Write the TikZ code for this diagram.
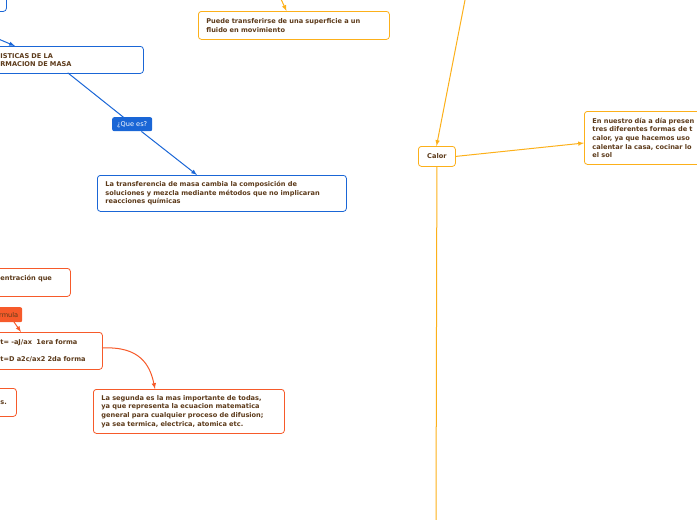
\documentclass[tikz,border=0pt]{standalone}
\usepackage{fontspec}
\setmainfont{DejaVu Sans}
\usepackage{tikz}
\usetikzlibrary{arrows.meta,positioning}
\definecolor{mapblue}{HTML}{1A66D6}
\definecolor{maporange}{HTML}{FCB01A}
\definecolor{mapred}{HTML}{F65A2A}
\definecolor{mapbrown}{HTML}{5C3A1A}
\newcommand{\maptext}{\fontsize{6.6}{8.6}\selectfont\bfseries}
\tikzset{
  topic/.style   = {draw=#1, thick, rounded corners=3pt, fill=white, align=left,
                    anchor=north west, inner xsep=8pt, inner ysep=0pt,
                    font=\maptext, text=mapbrown},
  tag/.style     = {fill=#1, rounded corners=2pt, anchor=north west, inner xsep=4pt,
                    inner ysep=0pt, font=\fontsize{6.6}{8}\selectfont},
  link/.style    = {#1, line width=1pt, line cap=round},
  arr/.style     = {#1, line width=1pt, -latex},
}
\begin{document}
\begin{tikzpicture}[x=1pt,y=-1pt]
  \useasboundingbox (0,0) rectangle (697,520);
  \clip (0,0) rectangle (697,520);
  % blue branch
  \node[topic=mapblue, text width=50pt, minimum height=21pt] (top) at (-60,-10) {};
  \node[topic=mapblue, text width=135pt, minimum height=27pt] (caract) at (-8,46)
    {ISTICAS DE LA\\RMACION DE MASA};
  \node[tag=mapblue, text=white, minimum width=40pt, minimum height=14pt] (quees) at (112,117)
    {¿Que es?};
  \node[topic=mapblue, text width=233pt, minimum height=36pt] (transf) at (97,175)
    {La transferencia de masa cambia la composición de\\soluciones y mezcla mediante métodos que no implicaran\\reacciones químicas};
  \coordinate (bluein) at (-30,27);
  \draw[arr=mapblue] (bluein) -- (15,46);
  \draw[link=mapblue] (68,73) -- (quees);
  \draw[arr=mapblue] (quees) -- (197,175);
  % yellow branch
  \node[topic=maporange, text width=175pt, minimum height=28pt] (puede) at (198,11)
    {Puede transferirse de una superficie a un\\fluido en movimiento};
  \node[topic=maporange, text width=21pt, minimum height=20pt, align=center] (calor) at (418,146)
    {Calor};
  \node[topic=maporange, text width=114pt, minimum height=53pt] (nuestro) at (584,111)
    {En nuestro día a día presen\\tres diferentes formas de t\\calor, ya que hacemos uso\\calentar la casa, cocinar lo\\el sol};
  \coordinate (puedein) at (280,-3);
  \coordinate (calorin) at (465.6,-3);
  \coordinate (calorout) at (436,525);
  \draw[arr=maporange] (puedein) -- (286.5,11);
  \draw[arr=maporange] (calorin) -- (436.5,146);
  \draw[arr=maporange] (calor.east) -- (nuestro.west |- 0,143);
  \draw[link=maporange] (calor.south) -- (calorout);
  % red branch
  \node[topic=mapred, text width=62pt, minimum height=28pt] (concentr) at (-8,268)
    {entración que\\~};
  \node[tag=mapred, text=mapbrown, text width=19pt, minimum height=15pt, align=left] (formula) at (-5,307)
    {rmula};
  \node[topic=mapred, text width=94pt, minimum height=37pt] (forma) at (-8,332)
    {t= -aJ/ax~~1era forma\\[8.6pt]t=D a2c/ax2 2da forma};
  \node[topic=mapred, text width=175pt, minimum height=44pt] (segunda) at (93,389)
    {La segunda es la mas importante de todas,\\ya que representa la ecuacion matematica\\general para cualquier proceso de difusion;\\ya sea termica, electrica, atomica etc.};
  \node[topic=mapred, text width=8pt, minimum height=28pt] (sbox) at (-8,388)
    {s.};
  \draw[arr=mapred] (14,322) -- (21,332);
  \draw[arr=mapred] (102,348) .. controls (140,346) and (150,365) .. (155,389);
\end{tikzpicture}
\end{document}
